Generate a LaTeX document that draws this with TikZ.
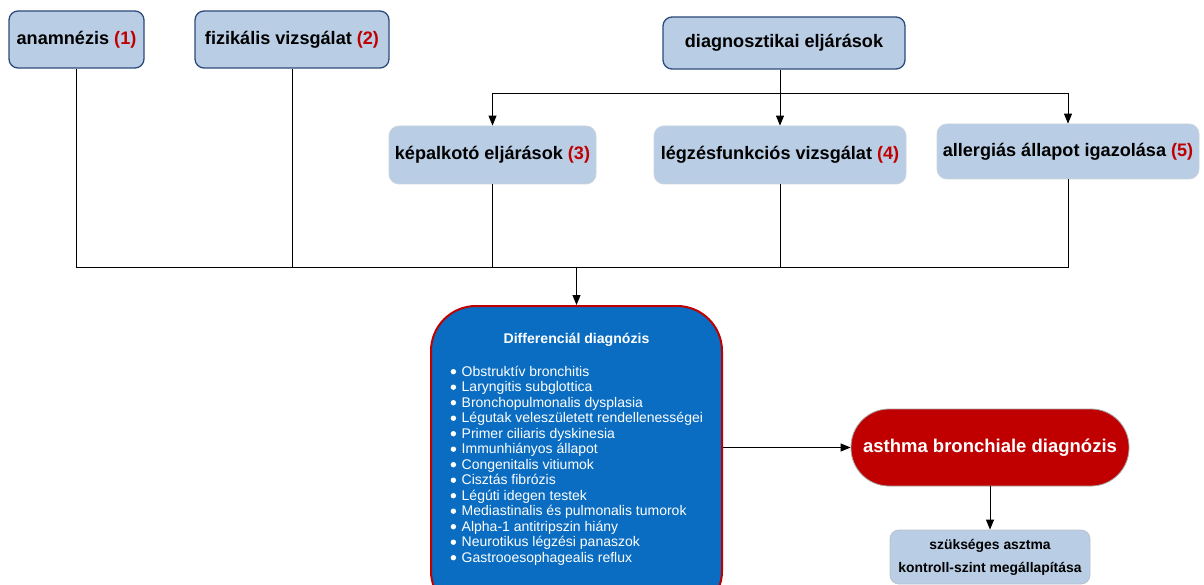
\documentclass[tikz,border=0pt]{standalone}
\usepackage{fontspec}
\setmainfont{Liberation Sans}
\usetikzlibrary{arrows.meta}
\definecolor{boxfill}{HTML}{B9CDE5}
\definecolor{darkborder}{HTML}{2C4A7A}
\definecolor{lightborder}{HTML}{C9D3DF}
\definecolor{numred}{HTML}{C00000}
\definecolor{diffblue}{HTML}{0A6DC1}
\definecolor{asthred}{HTML}{C00000}
\begin{document}
\begin{tikzpicture}[x=1pt,y=-1pt,
  topbox/.style={draw=darkborder, line width=1.3pt, fill=boxfill, rounded corners=9pt, inner sep=0pt,
    font=\bfseries\fontsize{18.1}{20}\selectfont},
  subbox/.style={draw=lightborder, line width=0.8pt, fill=boxfill, rounded corners=10pt, inner sep=0pt,
    font=\bfseries\fontsize{18.1}{20}\selectfont},
  conn/.style={line width=0.9pt, black},
  arr/.style={conn, -{Triangle[length=10pt,width=8pt]}}
]
\useasboundingbox (0,0) rectangle (1204,585);
\clip (0,0) rectangle (1204,585);

\node[topbox, minimum width=135, minimum height=57] (anam) at (76.5,39.5) {anamnézis \textcolor{numred}{(1)}};
\node[topbox, minimum width=194, minimum height=57] (fiz) at (292,39.5) {fizikális vizsgálat \textcolor{numred}{(2)}};
\node[topbox, minimum width=242, minimum height=52] (diag) at (784,43) {diagnosztikai eljárások};
\node[subbox, minimum width=207, minimum height=58] (kep) at (492.5,155) {képalkotó eljárások \textcolor{numred}{(3)}};
\node[subbox, minimum width=252, minimum height=58] (legz) at (780,155) {légzésfunkciós vizsgálat \textcolor{numred}{(4)}};
\node[subbox, minimum width=262, minimum height=55] (allerg) at (1068,151.5) {allergiás állapot igazolása \textcolor{numred}{(5)}};

\node[draw=asthred, line width=2pt, fill=diffblue, rounded corners=45pt, minimum width=291, minimum height=310, inner sep=0pt] (diff) at (576.5,461) {};
\node[text=white, font=\bfseries\fontsize{14.1}{16}\selectfont, inner sep=0pt] (difft) at (576.5,339.5) {Differenciál diagnózis};
\foreach \i in {0,...,12} \fill[white] (453.4,{371.7+15.5*\i}) circle (2.7);
\node[text=white, font=\fontsize{14}{15.5}\selectfont, align=left, anchor=north west, inner sep=0pt] (diffl) at (461.5,365.5) {%
Obstruktív bronchitis\\
Laryngitis subglottica\\
Bronchopulmonalis dysplasia\\
Légutak veleszületett rendellenességei\\
Primer ciliaris dyskinesia\\
Immunhiányos állapot\\
Congenitalis vitiumok\\
Cisztás fibrózis\\
Légúti idegen testek\\
Mediastinalis és pulmonalis tumorok\\
Alpha-1 antitripszin hiány\\
Neurotikus légzési panaszok\\
Gastrooesophagealis reflux};

\node[draw=gray!70, line width=0.8pt, fill=asthred, rounded corners=38pt, minimum width=278, minimum height=77, inner sep=0pt,
  text=white, font=\bfseries\fontsize{18.5}{20}\selectfont] (asth) at (990,447.5) {asthma bronchiale diagnózis};
\node[draw=lightborder!80!gray, line width=0.8pt, fill=boxfill, rounded corners=9pt, minimum width=200, minimum height=54, inner sep=0pt,
  align=center, font=\bfseries\fontsize{13.9}{23}\selectfont] (szuk) at (990,557) {szükséges asztma\\kontroll-szint megállapítása};

\coordinate (bus) at (0,267);
\coordinate (split) at (0,93);

\draw[conn] (anam.south) -- (anam.south |- bus) -- (allerg.south |- bus) -- (allerg.south);
\draw[conn] (fiz.south) -- (fiz.south |- bus);
\draw[conn] (kep.south) -- (kep.south |- bus);
\draw[conn] (legz.south) -- (legz.south |- bus);
\draw[arr] (diff.north |- bus) -- (diff.north);

\draw[arr] (diag.south -| legz.north) -- (legz.north);
\draw[conn] (kep.north |- split) -- (allerg.north |- split);
\draw[arr] (kep.north |- split) -- (kep.north);
\draw[arr] (allerg.north |- split) -- (allerg.north);

\draw[arr] (diff.east |- asth.west) -- (asth.west);
\draw[arr] (asth.south) -- (szuk.north);
\end{tikzpicture}
\end{document}
